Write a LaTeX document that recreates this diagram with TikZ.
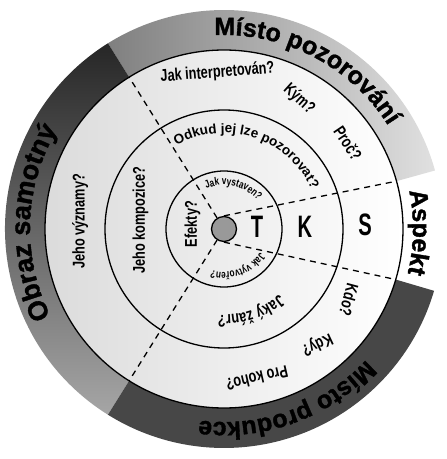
\documentclass[tikz,border=0pt]{standalone}
\usepackage{fontspec}
\setmainfont{Liberation Sans}
\newfontfamily\ringfam{Liberation Sans}[FakeBold=1.4]
\newfontfamily\midfam{Liberation Sans}
\newfontfamily\condfam{Liberation Sans}[FakeStretch=0.75]
\newfontfamily\tksfam{Liberation Sans}[FakeStretch=0.65]
\usetikzlibrary{decorations.text}

\newcommand{\ringfont}{\ringfam\bfseries\fontsize{25}{25}\selectfont}
\newcommand{\bigringfont}{\ringfam\bfseries\fontsize{27}{27}\selectfont}
\newcommand{\qfont}{\condfam\bfseries\fontsize{17}{17}\selectfont}
\newcommand{\midqfont}{\midfam\bfseries\fontsize{13.5}{13.5}\selectfont}
\newcommand{\smallqfont}{\condfam\bfseries\fontsize{11}{11}\selectfont}
\newcommand{\tksfont}{\tksfam\bfseries\fontsize{31}{31}\selectfont}

\tikzset{
  arctext/.style={decorate, decoration={text along path, text align=center, text={#1}}},
  ringline/.style={line width=1.3pt},
  cutline/.style={line width=1.3pt, dash pattern=on 6pt off 5pt},
  question/.style={font=\qfont, inner sep=0pt},
  letter/.style={font=\tksfont, inner sep=0pt},
  hubdot/.style={circle, draw, line width=1.3pt, fill=black!40, minimum size=25pt, inner sep=0pt},
}

\begin{document}
\begin{tikzpicture}[x=1pt,y=1pt]
    \useasboundingbox (0,0) rectangle (447,459);
    \begin{scope}[shift={(224,230)}]
    % Pintando o anel externo
    \shade[left color=black!50, right color=black!12]
      (122:179) arc[start angle=122, end angle=15.5, radius=179]
      -- (15.5:219) arc[start angle=15.5, end angle=122, radius=219] -- cycle;
    \shade[top color=black!85, bottom color=black!35]
      (122:179) arc[start angle=122, end angle=238, radius=179]
      -- (238:219) arc[start angle=238, end angle=122, radius=219] -- cycle;
    \fill[black!72]
      (238:179) arc[start angle=238, end angle=343.6, radius=179]
      -- (343.6:219) arc[start angle=343.6, end angle=238, radius=219] -- cycle;
    % Desenhando os circulos
    \shade[left color=black!14, right color=white] (0,0) circle (179);
    \draw[ringline] (0,0) circle (179);
    \draw[ringline] (0,0) circle (119);
    \draw[ringline] (0,0) circle (58);
    \node[hubdot] (hub) at (0,0) {};
    % Linhas tracejadas
    \draw[cutline] (hub.122) -- (122:179);
    \draw[cutline] (hub.238) -- (238:179);
    \draw[cutline] (hub.90) -- (15.5:179);
    \draw[cutline] (hub.-90) -- (-16.4:179);
    % Escrevendo os nomes do anel
    \path[arctext={|\ringfont|Místo pozorování}] (120:194) arc[start angle=120, end angle=5, radius=194];
    \path[arctext={|\ringfont|Aspekt}] (30:189) arc[start angle=30, end angle=-32, radius=189];
    \path[arctext={|\ringfont|Místo produkce}] (-10:193) arc[start angle=-10, end angle=-130, radius=193];
    \path[arctext={|\bigringfont|Obraz samotný}] (240:194) arc[start angle=240, end angle=116, radius=194];
    % Perguntas
    \path[arctext={|\midqfont|Odkud jej lze pozorovat?}] (150:96) arc[start angle=150, end angle=-6, radius=96];
    \path[arctext={|\smallqfont|Jak vystaven?}] (170:44) arc[start angle=170, end angle=-16, radius=44];
    \path[arctext={|\smallqfont|Jak vytvořen?}] (20:43) arc[start angle=20, end angle=-160, radius=43];
    \path[arctext={|\qfont|Jaký žánr?}] (10:86) arc[start angle=10, end angle=-154, radius=86];
    \node[question, rotate=4.5]  (interp)  at (-6.5,156)  {Jak interpretován?};
    \node[question, rotate=-42]  (kym)     at (60:150)    {Kým?};
    \node[question, rotate=-56]  (proc)    at (34.7:151)  {Proč?};
    \node[question, rotate=-105] (kdo)     at (125,-71)   {Kdo?};
    \node[question, rotate=-155] (kdy)     at (93,-115)   {Kdy?};
    \node[question, rotate=-167] (prokoho) at (-77.5:153) {Pro koho?};
    \node[question, rotate=90]   (efekty)  at (171:32)    {Efekty?};
    \node[question, rotate=90]   (kompozice) at (174:84)  {Jeho kompozice?};
    \node[question, rotate=90]   (vyznamy) at (177:144)   {Jeho významy?};
    % Letras T K S
    \node[letter] (t) at (33,2)  {T};
    \node[letter] (k) at (81,2)  {K};
    \node[letter] (s) at (141,4) {S};
    \end{scope}
\end{tikzpicture}
\end{document}
